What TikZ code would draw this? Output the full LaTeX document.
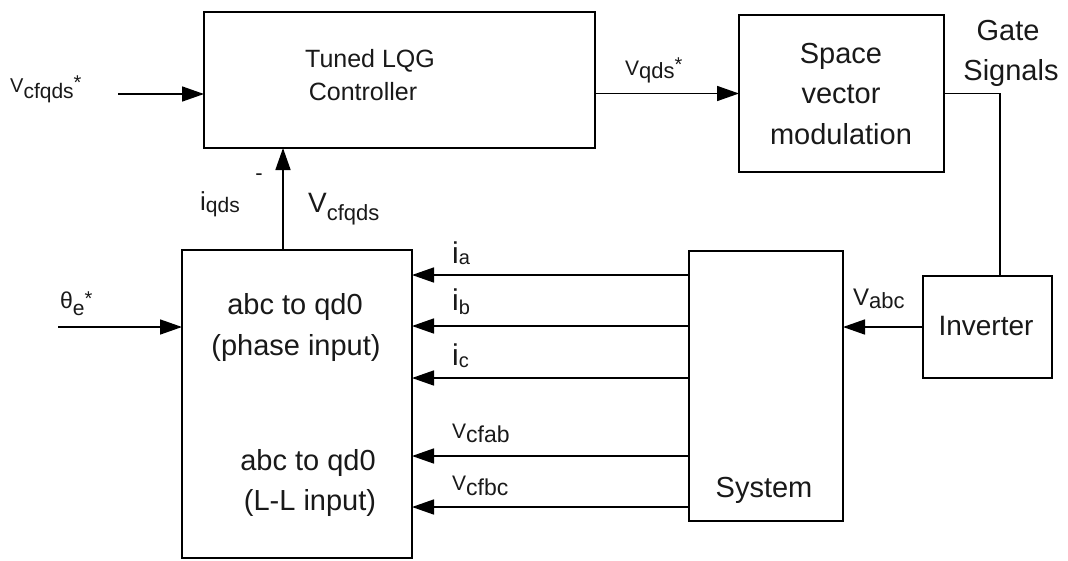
\documentclass[tikz,border=0pt]{standalone}
\usepackage{fontspec}
\setmainfont{Liberation Sans}
\usetikzlibrary{arrows.meta}
\newcommand{\fs}[1]{\fontsize{#1}{#1}\selectfont}
\newcommand{\vlab}[5]{{\fs{#1}#2}\raisebox{-#4pt}{\fs{#3}#5}}
\begin{document}
\begin{tikzpicture}[x=1pt,y=-1pt,
  blk/.style={draw, line width=1.6pt, rectangle, inner sep=0pt, outer sep=0pt},
  wire/.style={line width=1.6pt},
  arr/.style={wire, -{Triangle[length=22pt,width=15pt]}},
  txt/.style={inner sep=0pt, anchor=base, text=black!90},
  lab/.style={inner sep=0pt, anchor=base west, text=black!90}]
\useasboundingbox (0,0) rectangle (1068,560);
\clip (0,0) rectangle (1068,560);
\fill[white] (0,0) rectangle (1068,560);

% blocks
\node[blk, minimum width=391pt, minimum height=136pt] (ctrl) at (399.5,80) {};
\node[blk, minimum width=205pt, minimum height=157pt] (svm) at (841.5,93.5) {};
\node[blk, minimum width=129pt, minimum height=102pt] (inv) at (987.5,327) {};
\node[blk, minimum width=154pt, minimum height=270pt] (sys) at (766,386) {};
\node[blk, minimum width=230pt, minimum height=308pt] (abc) at (297,404) {};

% block texts
\node[txt] (ct1) at (370,67) {\fs{25}Tuned LQG};
\node[txt] (ct2) at (363,100) {\fs{25}Controller};
\node[txt] (sv1) at (841,63) {\fs{29}Space};
\node[txt] (sv2) at (841,103) {\fs{29}vector};
\node[txt] (sv3) at (841,144) {\fs{29}modulation};
\node[txt] (gt1) at (1008,40) {\fs{29}Gate};
\node[txt] (gt2) at (1011,80) {\fs{29}Signals};
\node[txt] (ivt) at (986,335) {\fs{28}Inverter};
\node[txt] (syt) at (764,497) {\fs{29}System};
\node[txt] (ab1) at (295,314) {\fs{29}abc to qd0};
\node[txt] (ab2) at (296,355) {\fs{29}(phase input)};
\node[txt] (ab3) at (308,470) {\fs{29}abc to qd0};
\node[txt] (ab4) at (310,510) {\fs{29}(L-L input)};

% connectors
\coordinate (vin) at (118,94);
\draw[arr] (vin) -- (vin -| ctrl.west);
\draw[arr] (ctrl.east |- svm.west) -- (svm.west);
\coordinate (gate) at (1000,93.5);
\draw[wire] (svm.east) -- (gate) -- (gate |- inv.north);
\draw[arr] (inv.west) -- (inv.west -| sys.east);
\coordinate (fb) at (283,300);
\draw[arr] (fb |- abc.north) -- (fb |- ctrl.south);
\coordinate (th) at (58,327);
\draw[arr] (th) -- (th -| abc.west);
\coordinate (ra) at (600,275);
\coordinate (rb) at (600,326);
\coordinate (rc) at (600,378);
\coordinate (rd) at (600,456);
\coordinate (re) at (600,507);
\foreach \p in {ra,rb,rc,rd,re}
  \draw[arr] (\p -| sys.west) -- (\p -| abc.east);

% labels
\node[lab] (lvin) at (10,92) {\vlab{20}{V}{21}{6}{cfqds}\raisebox{3pt}{\fs{20}*}};
\node[lab] (lvqds) at (625,75) {\vlab{21}{V}{22}{3}{qds}\raisebox{4pt}{\fs{20}*}};
\node[lab] (liqds) at (200,210) {\vlab{26}{i}{21}{2}{qds}};
\node[inner sep=0pt, text=black!90] (lminus) at (259,177) {\fs{22}-};
\node[lab] (lvcf) at (308,212) {\vlab{28}{V}{22}{8}{cfqds}};
\node[lab] (lth) at (60,308) {\vlab{23}{θ}{21}{7}{e}\raisebox{3pt}{\fs{20}*}};
\node[lab] (lia) at (452,263) {\vlab{30}{i}{20}{1}{a}};
\node[lab] (lib) at (452,310) {\vlab{30}{i}{20}{4}{b}};
\node[lab] (lic) at (452,365) {\vlab{30}{i}{20}{2}{c}};
\node[lab] (lvab) at (452,438) {\vlab{21}{V}{23}{4}{cfab}};
\node[lab] (lvbc) at (452,490) {\vlab{21}{V}{23}{5}{cfbc}};
\node[lab] (lvabc) at (853,305) {\vlab{24}{V}{22}{3}{abc}};
\end{tikzpicture}
\end{document}
